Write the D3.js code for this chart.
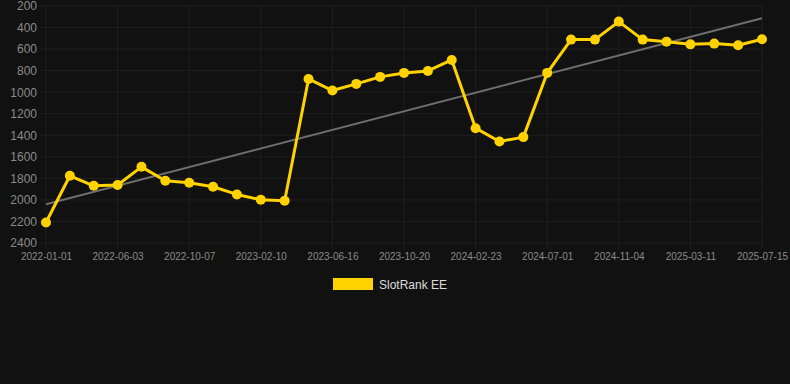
<!DOCTYPE html>
<html>
<head>
<meta charset="utf-8">
<script src="https://cdn.jsdelivr.net/npm/d3@7"></script>
<style>
  html, body { margin: 0; padding: 0; background: #111111; }
  #chart svg { display: block; }
  .axis text { font-family: "Liberation Sans", Arial, sans-serif; }
</style>
</head>
<body>
<div id="chart"></div>
<script>
// dates (categories) and rank values
const dates = [
    "2022-01-01", "2022-02-21", "2022-04-13", "2022-06-03", "2022-07-15", "2022-08-26",
    "2022-10-07", "2022-11-18", "2022-12-30", "2023-02-10", "2023-03-24", "2023-05-05",
    "2023-06-16", "2023-07-28", "2023-09-08", "2023-10-20", "2023-12-01", "2024-01-12",
    "2024-02-23", "2024-04-05", "2024-05-17", "2024-07-01", "2024-08-12", "2024-09-23",
    "2024-11-04", "2024-12-16", "2025-01-27", "2025-03-11", "2025-04-22", "2025-06-03",
    "2025-07-15"
];
const ranks = [
    2210, 1776, 1869, 1862, 1693, 1822,
    1841, 1878, 1949, 1999, 2008, 877,
    985, 923, 858, 821, 803, 701,
    1334, 1458, 1417, 821, 512, 512,
    345, 512, 531, 556, 549, 565,
    509
];
const yTicks = [200, 400, 600, 800, 1000, 1200, 1400, 1600, 1800, 2000, 2200, 2400];
const xTickLabels = ["2022-01-01", "2022-06-03", "2022-10-07", "2023-02-10", "2023-06-16",
    "2023-10-20", "2024-02-23", "2024-07-01", "2024-11-04", "2025-03-11", "2025-07-15"];
const seriesName = "SlotRank EE";

const width = 790, height = 384;
const margin = {top: 6, right: 28, bottom: 141, left: 46};
const innerW = width - margin.left - margin.right;
const innerH = height - margin.top - margin.bottom;

const svg = d3.select("#chart").append("svg")
    .attr("width", width)
    .attr("height", height)
    .style("background", "#111111");

const g = svg.append("g")
    .attr("transform", `translate(${margin.left},${margin.top})`);

const x = d3.scalePoint()
    .domain(dates)
    .range([0, innerW]);

const y = d3.scaleLinear()
    .domain([200, 2400])
    .range([0, innerH]);

// horizontal grid
g.append("g")
    .selectAll("line")
    .data(yTicks)
    .join("line")
    .attr("x1", -6)
    .attr("x2", innerW)
    .attr("y1", d => y(d))
    .attr("y2", d => y(d))
    .attr("stroke", "#1f1f1f")
    .attr("stroke-width", 1);

// vertical grid
g.append("g")
    .selectAll("line")
    .data(xTickLabels)
    .join("line")
    .attr("x1", d => x(d))
    .attr("x2", d => x(d))
    .attr("y1", 0)
    .attr("y2", innerH + 6)
    .attr("stroke", "#1f1f1f")
    .attr("stroke-width", 1);

// y axis
const yAxis = g.append("g")
    .attr("class", "axis")
    .call(d3.axisLeft(y).tickValues(yTicks).tickFormat(d3.format("d")).tickSize(0).tickPadding(9));
yAxis.select(".domain").remove();
yAxis.selectAll("text")
    .attr("fill", "#8a8a8a")
    .style("font-size", "12px");

// x axis
const xAxis = g.append("g")
    .attr("class", "axis")
    .attr("transform", `translate(0,${innerH})`)
    .call(d3.axisBottom(x).tickValues(xTickLabels).tickSize(0).tickPadding(10));
xAxis.select(".domain").remove();
xAxis.selectAll("text")
    .attr("fill", "#8a8a8a")
    .style("font-size", "10px");

// trend line (least squares over the series)
const n = ranks.length;
const meanI = (n - 1) / 2;
const meanV = d3.mean(ranks);
let sxy = 0, sxx = 0;
ranks.forEach((v, i) => { sxy += (i - meanI) * (v - meanV); sxx += (i - meanI) * (i - meanI); });
const slope = sxy / sxx;
const trend = [0, n - 1].map(i => ({date: dates[i], value: meanV + slope * (i - meanI)}));

g.append("path")
    .datum(trend)
    .attr("fill", "none")
    .attr("stroke", "#6e6e6e")
    .attr("stroke-width", 2)
    .attr("d", d3.line().x(d => x(d.date)).y(d => y(d.value)));

// series line
const points = dates.map((d, i) => ({date: d, value: ranks[i]}));

g.append("path")
    .datum(points)
    .attr("fill", "none")
    .attr("stroke", "#FFD200")
    .attr("stroke-width", 3)
    .attr("stroke-linejoin", "round")
    .attr("d", d3.line().x(d => x(d.date)).y(d => y(d.value)));

g.selectAll(".dot")
    .data(points)
    .join("circle")
    .attr("class", "dot")
    .attr("cx", d => x(d.date))
    .attr("cy", d => y(d.value))
    .attr("r", 5)
    .attr("fill", "#FFD200");

// legend
const legend = svg.append("g")
    .attr("transform", "translate(333,278)");
legend.append("rect")
    .attr("width", 40)
    .attr("height", 12)
    .attr("fill", "#FFD200");
legend.append("text")
    .attr("x", 46)
    .attr("y", 10.5)
    .attr("fill", "#dddddd")
    .style("font-family", "'Liberation Sans', Arial, sans-serif")
    .style("font-size", "12px")
    .text(seriesName);
</script>
</body>
</html>
